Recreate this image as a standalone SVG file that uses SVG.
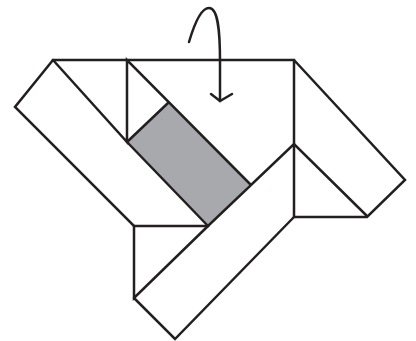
<svg xmlns="http://www.w3.org/2000/svg" width="416" height="341" viewBox="0 0 416 341">
<style>
.l{fill:none;stroke:#231f20;stroke-width:2.5;stroke-linejoin:miter;stroke-linecap:round}
</style>
<rect width="416" height="341" fill="#fff"/>
<polygon points="168,103 250,184 208,226 127,142" fill="#a7a9ac"/>
<g id="lines">
<path class="l" d="M53,60H294V217H367L405,180L294,60"/>
<path class="l" d="M53,60L15,107L134,226H208L294,144L367,216"/>
<path class="l" d="M53,60L127,142V60L250,184"/>
<path class="l" d="M127,142L168,103"/>
<path class="l" d="M127,142L208,226"/>
<path class="l" d="M134,226V298L208,226"/>
<path class="l" d="M134,298L175,339L294,217"/>
<path class="l" d="M189,42C194,25 201,8 209,8C218,8 220,30 220,62V101"/>
<path class="l" d="M211,94L220,101L232,94"/>
</g>
</svg>
